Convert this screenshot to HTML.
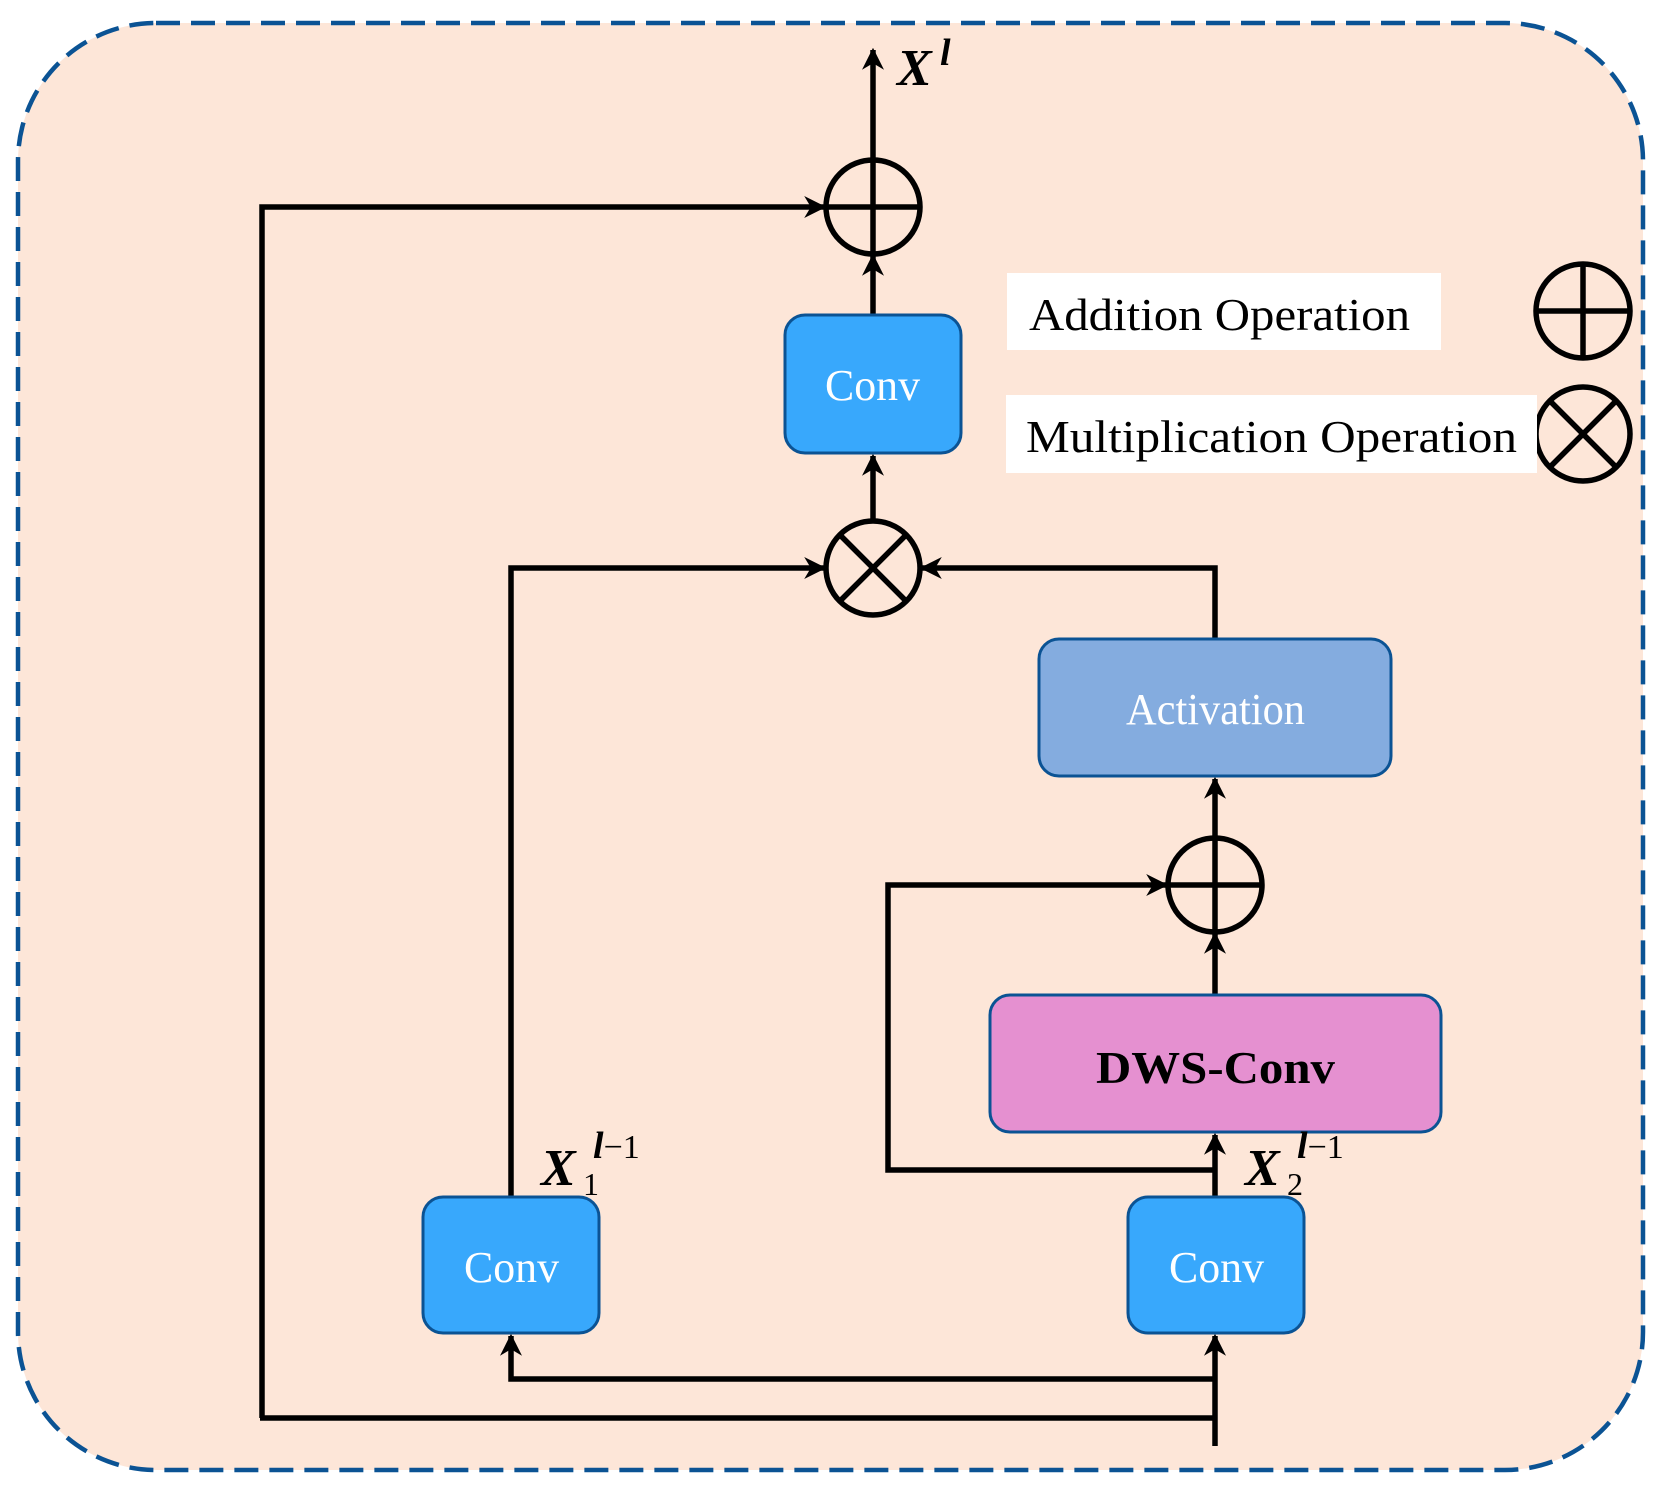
<!DOCTYPE html>
<html><head><meta charset="utf-8"><style>html,body{margin:0;padding:0;background:#fff}svg{display:block}</style></head>
<body>
<svg width="1666" height="1495" viewBox="0 0 1666 1495" xmlns="http://www.w3.org/2000/svg" font-family="Liberation Serif, serif">
<defs>
<marker id="a" viewBox="0 0 10 10" refX="9" refY="5" markerWidth="4" markerHeight="4" orient="auto-start-reverse" markerUnits="strokeWidth">
<path d="M0,0 L10,5 L0,10 L3,5 z" fill="#000"/></marker>
</defs>
<rect x="18" y="23" width="1625" height="1447" rx="138" fill="#fde6d8" stroke="#0b5394" stroke-width="4.5" stroke-dasharray="24,11"/>
<g fill="none" stroke="#000" stroke-width="5.5">
<line x1="873" y1="160" x2="873" y2="50" marker-end="url(#a)"/>
<line x1="873" y1="315" x2="873" y2="256" marker-end="url(#a)"/>
<line x1="873" y1="521" x2="873" y2="456" marker-end="url(#a)"/>
<polyline points="262,1418 262,207 824,207" marker-end="url(#a)"/>
<polyline points="511,1197 511,568 824,568" marker-end="url(#a)"/>
<polyline points="1215,639 1215,568 922,568" marker-end="url(#a)"/>
<line x1="1215" y1="838" x2="1215" y2="779" marker-end="url(#a)"/>
<line x1="1215" y1="995" x2="1215" y2="934" marker-end="url(#a)"/>
<polyline points="1215,1170 888,1170 888,885 1166,885" marker-end="url(#a)"/>
<line x1="1215" y1="1197" x2="1215" y2="1135" marker-end="url(#a)"/>
<line x1="1215" y1="1446" x2="1215" y2="1336" marker-end="url(#a)"/>
<polyline points="1215,1379 511,1379 511,1336" marker-end="url(#a)"/>
<line x1="1215" y1="1418" x2="260" y2="1418"/>
</g>
<g fill="none" stroke="#000" stroke-width="5.5">
<circle cx="873" cy="207" r="47"/><line x1="826" y1="207" x2="920" y2="207"/><line x1="873" y1="160" x2="873" y2="254"/>
<circle cx="873" cy="568" r="47"/><line x1="840" y1="535" x2="906" y2="601"/><line x1="906" y1="535" x2="840" y2="601"/>
<circle cx="1215" cy="885" r="47"/><line x1="1168" y1="885" x2="1262" y2="885"/><line x1="1215" y1="838" x2="1215" y2="932"/>
<circle cx="1583" cy="311" r="47"/><line x1="1536" y1="311" x2="1630" y2="311"/><line x1="1583" y1="264" x2="1583" y2="358"/>
<circle cx="1583" cy="434" r="47"/><line x1="1550" y1="401" x2="1616" y2="467"/><line x1="1616" y1="401" x2="1550" y2="467"/>
</g>
<g stroke="#0b5394" stroke-width="3">
<rect x="785" y="315" width="176" height="138" rx="20" fill="#38a8fc"/>
<rect x="423" y="1197" width="176" height="136" rx="20" fill="#38a8fc"/>
<rect x="1128" y="1197" width="176" height="136" rx="20" fill="#38a8fc"/>
<rect x="1039" y="639" width="352" height="137" rx="20" fill="#84acdf"/>
<rect x="990" y="995" width="451" height="137" rx="20" fill="#e590d0"/>
</g>
<g font-size="44" fill="#fff">
<text x="825" y="400" textLength="95" lengthAdjust="spacingAndGlyphs">Conv</text>
<text x="464" y="1282" textLength="95" lengthAdjust="spacingAndGlyphs">Conv</text>
<text x="1169" y="1282" textLength="95" lengthAdjust="spacingAndGlyphs">Conv</text>
<text x="1126" y="724" textLength="179" lengthAdjust="spacingAndGlyphs">Activation</text>
</g>
<text x="1096" y="1083" font-size="46" font-weight="bold" textLength="239" lengthAdjust="spacingAndGlyphs">DWS-Conv</text>
<rect x="1007" y="273" width="434" height="77" fill="#fff"/>
<rect x="1006" y="395" width="531" height="78" fill="#fff"/>
<text x="1029" y="330" font-size="46" textLength="381" lengthAdjust="spacingAndGlyphs">Addition Operation</text>
<text x="1026" y="452" font-size="46" textLength="491" lengthAdjust="spacingAndGlyphs">Multiplication Operation</text>
<g font-weight="bold" font-style="italic" font-size="52">
<text x="897" y="85">X</text>
<text x="541" y="1185">X</text>
<text x="1245" y="1185">X</text>
</g>
<text x="940" y="65" font-size="38" font-weight="bold" font-style="italic">l</text>
<text x="583" y="1195" font-size="32">1</text>
<text x="1287" y="1195" font-size="32">2</text>
<text x="593" y="1158" font-size="34"><tspan font-weight="bold" font-style="italic" font-size="38">l</tspan>−1</text>
<text x="1297" y="1158" font-size="34"><tspan font-weight="bold" font-style="italic" font-size="38">l</tspan>−1</text>
</svg>
</body></html>
